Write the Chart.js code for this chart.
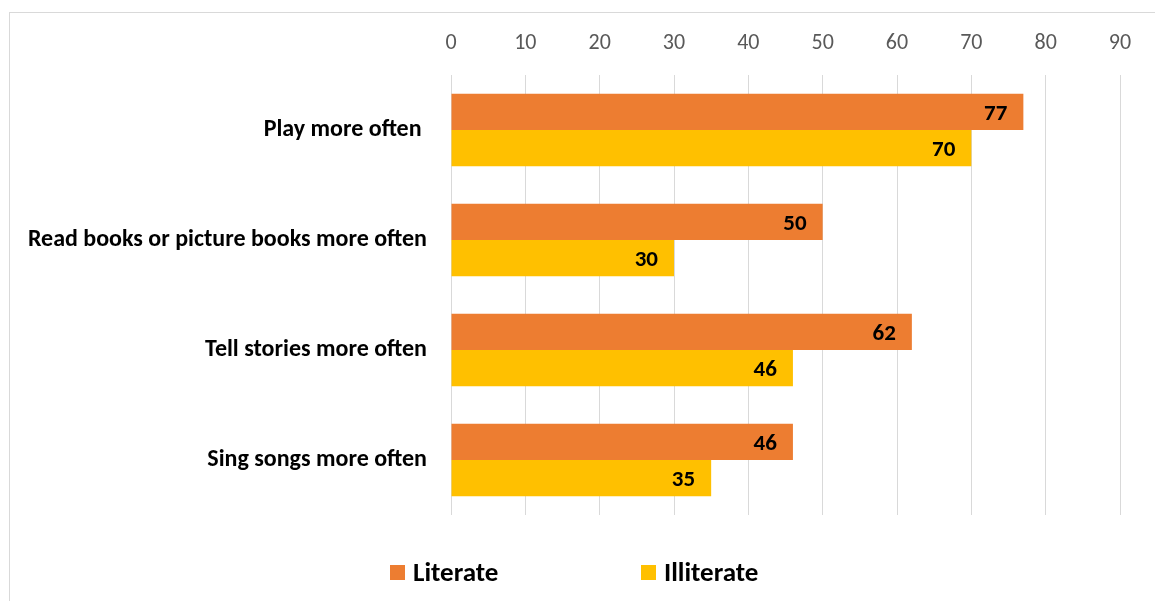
<!DOCTYPE html>
<html>
<head>
<meta charset="utf-8">
<script src="https://cdn.jsdelivr.net/npm/chart.js@4"></script>
<style>
  html, body { margin: 0; padding: 0; background: #fff; }
  #wrap { position: relative; width: 1155px; height: 601px; overflow: hidden; }
  #frame { position: absolute; left: 9px; top: 12px; width: 1160px; height: 600px; border: 1px solid #d9d9d9; box-sizing: border-box; }
  #chart { position: absolute; left: 0; top: 0; }
</style>
</head>
<body>
<div id="wrap">
  <div id="frame"></div>
  <canvas id="chart" width="1155" height="601"></canvas>
</div>
<script>
// Chart data
const categories = ['Play more often ', 'Read books or picture books more often', 'Tell stories more often', 'Sing songs more often'];
const literate = [77, 50, 62, 46];
const illiterate = [70, 30, 46, 35];
const xTicks = [0, 10, 20, 30, 40, 50, 60, 70, 80, 90];

const FONT = 'Carlito, Calibri, "Liberation Sans", sans-serif';

// value labels drawn inside the end of each bar
const barLabels = {
    id: 'barLabels',
    afterDatasetsDraw(chart) {
        const ctx = chart.ctx;
        ctx.save();
        ctx.font = 'bold 23px ' + FONT;
        ctx.fillStyle = '#000';
        ctx.textAlign = 'right';
        ctx.textBaseline = 'middle';
        chart.data.datasets.forEach((ds, i) => {
            chart.getDatasetMeta(i).data.forEach((bar, j) => {
                ctx.fillText(ds.data[j], bar.x - 16, bar.y + 2);
            });
        });
        ctx.restore();
    }
};

// simple legend at the bottom, spaced like the original
const bottomLegend = {
    id: 'bottomLegend',
    afterDraw(chart) {
        const ctx = chart.ctx;
        const positions = [390, 641];
        const y = 573;
        ctx.save();
        ctx.font = 'bold 27px ' + FONT;
        ctx.textBaseline = 'middle';
        ctx.textAlign = 'left';
        chart.data.datasets.forEach((ds, i) => {
            const x = positions[i];
            ctx.fillStyle = ds.backgroundColor;
            ctx.fillRect(x, y - 8, 15, 15);
            ctx.fillStyle = '#000';
            ctx.fillText(ds.label, x + 23, y + 1);
        });
        ctx.restore();
    }
};

new Chart(document.getElementById('chart'), {
    type: 'bar',
    data: {
        labels: categories,
        datasets: [
            { label: 'Literate', data: literate, backgroundColor: '#ED7D31' },
            { label: 'Illiterate', data: illiterate, backgroundColor: '#FFC000' }
        ]
    },
    options: {
        indexAxis: 'y',
        responsive: false,
        animation: false,
        layout: { padding: { left: 0, right: 35, top: 20, bottom: 86 } },
        datasets: { bar: { categoryPercentage: 0.66, barPercentage: 1.0 } },
        plugins: {
            legend: { display: false },
            tooltip: { enabled: false }
        },
        scales: {
            x: {
                position: 'top',
                min: 0,
                max: 90,
                afterBuildTicks: (scale) => { scale.ticks = xTicks.map(v => ({ value: v })); },
                afterFit: (scale) => { scale.height = 55; },
                grid: { color: '#d9d9d9', lineWidth: 1, drawTicks: false },
                border: { display: false },
                ticks: { color: '#595959', font: { family: FONT, size: 22 }, padding: 18 }
            },
            y: {
                afterFit: (scale) => { scale.width = 451; },
                grid: { display: false },
                border: { display: false },
                ticks: { color: '#000', font: { family: FONT, size: 24, weight: 'bold' }, padding: 16 }
            }
        }
    },
    plugins: [barLabels, bottomLegend]
});
</script>
</body>
</html>
